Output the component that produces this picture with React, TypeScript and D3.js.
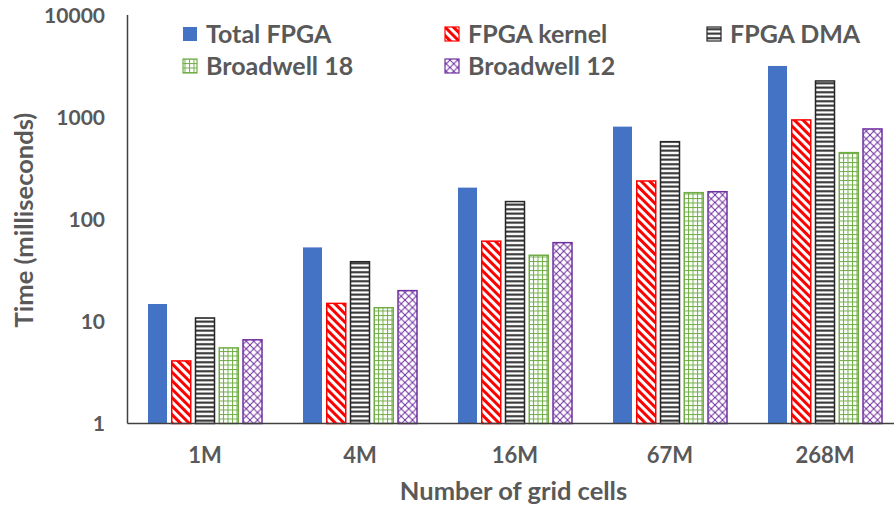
import React from "react";
import * as d3 from "d3";

const categories = ["1M", "4M", "16M", "67M", "268M"];
const seriesNames = ["Total FPGA", "FPGA kernel", "FPGA DMA", "Broadwell 18", "Broadwell 12"];
const totalFpga = [14.8, 53, 204, 807, 3170];
const fpgaKernel = [4.1, 15, 61, 237, 939];
const fpgaDma = [10.8, 38.4, 149, 575, 2260];
const broadwell18 = [5.5, 13.6, 44.4, 182, 449];
const broadwell12 = [6.6, 20, 59, 186, 766];
const yTicks = [1, 10, 100, 1000, 10000];

const seriesValues = [totalFpga, fpgaKernel, fpgaDma, broadwell18, broadwell12];
const fills = ["#4472C4", "url(#pKernel)", "url(#pDma)", "url(#pB18)", "url(#pB12)"];
const strokes = ["none", "#FF0000", "#262626", "#70AD47", "#7030A0"];

const W = 894;
const H = 508;
const FONT = "Lato, 'Open Sans', sans-serif";
const TXT = "#595959";

export default function App() {
  const x0 = d3.scaleBand().domain(categories).range([127.5, 902.5]);
  const x1 = d3.scaleBand().domain(seriesNames).range([-57, 57]).paddingInner(0.2);
  const y = d3.scaleLog().domain([1, 10000]).range([423.5, 15]);

  const legendCols = [183, 445, 707];
  const legendRows = [34, 66];

  return (
    <svg width={W} height={H} style={{ position: "absolute", left: 0, top: 0, background: "#fff" }}>
      <defs>
        <pattern id="pKernel" patternUnits="userSpaceOnUse" width="6" height="6" patternTransform="rotate(-45)">
          <rect width="6" height="6" fill="#fff" />
          <rect width="3" height="6" fill="#FF0000" />
        </pattern>
        <pattern id="pDma" patternUnits="userSpaceOnUse" width="4.5" height="4.5">
          <rect width="4.5" height="4.5" fill="#fff" />
          <rect y="1.2" width="4.5" height="2" fill="#262626" />
        </pattern>
        <pattern id="pB18" patternUnits="userSpaceOnUse" width="4.5" height="4.5">
          <rect width="4.5" height="4.5" fill="#fff" />
          <rect x="0" width="1" height="4.5" fill="#70AD47" />
          <rect y="0" width="4.5" height="1" fill="#70AD47" />
        </pattern>
        <pattern id="pB12" patternUnits="userSpaceOnUse" width="7.5" height="7.5">
          <rect width="7.5" height="7.5" fill="#fff" />
          <path d="M0,0L7.5,7.5M7.5,0L0,7.5" stroke="#7030A0" strokeWidth="1" />
        </pattern>
      </defs>

      {/* bars */}
      {categories.map((c, ci) => (
        <g key={c} transform={`translate(${x0(c)! + x0.bandwidth() / 2},0)`}>
          {seriesNames.map((s, si) => {
            const v = seriesValues[si][ci];
            const top = y(v);
            return (
              <rect
                key={s}
                x={x1(s)!}
                y={top}
                width={x1.bandwidth()}
                height={y(1) - top}
                fill={fills[si]}
                stroke={strokes[si]}
                strokeWidth={strokes[si] === "none" ? 0 : 1.5}
              />
            );
          })}
        </g>
      ))}

      {/* axes lines */}
      <line x1={127.5} x2={W} y1={y(1)} y2={y(1)} stroke="#404040" strokeWidth={1.5} />
      <line x1={127.5} x2={127.5} y1={y(10000)} y2={y(1)} stroke="#404040" strokeWidth={1.5} />

      {/* y tick labels */}
      {yTicks.map((t) => (
        <text key={t} x={105} y={y(t)} dy="0.36em" textAnchor="end" fontFamily={FONT} fontWeight="bold" fontSize={21} fill={TXT}>
          {t}
        </text>
      ))}

      {/* x tick labels */}
      {categories.map((c) => (
        <text key={c} x={x0(c)! + x0.bandwidth() / 2} y={463} textAnchor="middle" fontFamily={FONT} fontWeight="bold" fontSize={22} fill={TXT}>
          {c}
        </text>
      ))}

      {/* axis titles */}
      <text x={513.5} y={500} textAnchor="middle" fontFamily={FONT} fontWeight="bold" fontSize={25.5} fill={TXT}>
        Number of grid cells
      </text>
      <text transform="translate(33,220) rotate(-90)" textAnchor="middle" fontFamily={FONT} fontWeight="bold" fontSize={25.5} fill={TXT}>
        Time (milliseconds)
      </text>

      {/* legend */}
      {seriesNames.map((s, i) => {
        const col = i < 3 ? i : i - 3;
        const row = i < 3 ? 0 : 1;
        const lx = legendCols[col];
        const ly = legendRows[row];
        return (
          <g key={s}>
            <rect x={lx} y={ly - 7} width={14} height={14} fill={fills[i]} stroke={strokes[i]} strokeWidth={strokes[i] === "none" ? 0 : 1.2} />
            <text x={lx + 23} y={ly} dy="0.36em" fontFamily={FONT} fontWeight="bold" fontSize={25} fill={TXT}>
              {s}
            </text>
          </g>
        );
      })}
    </svg>
  );
}
